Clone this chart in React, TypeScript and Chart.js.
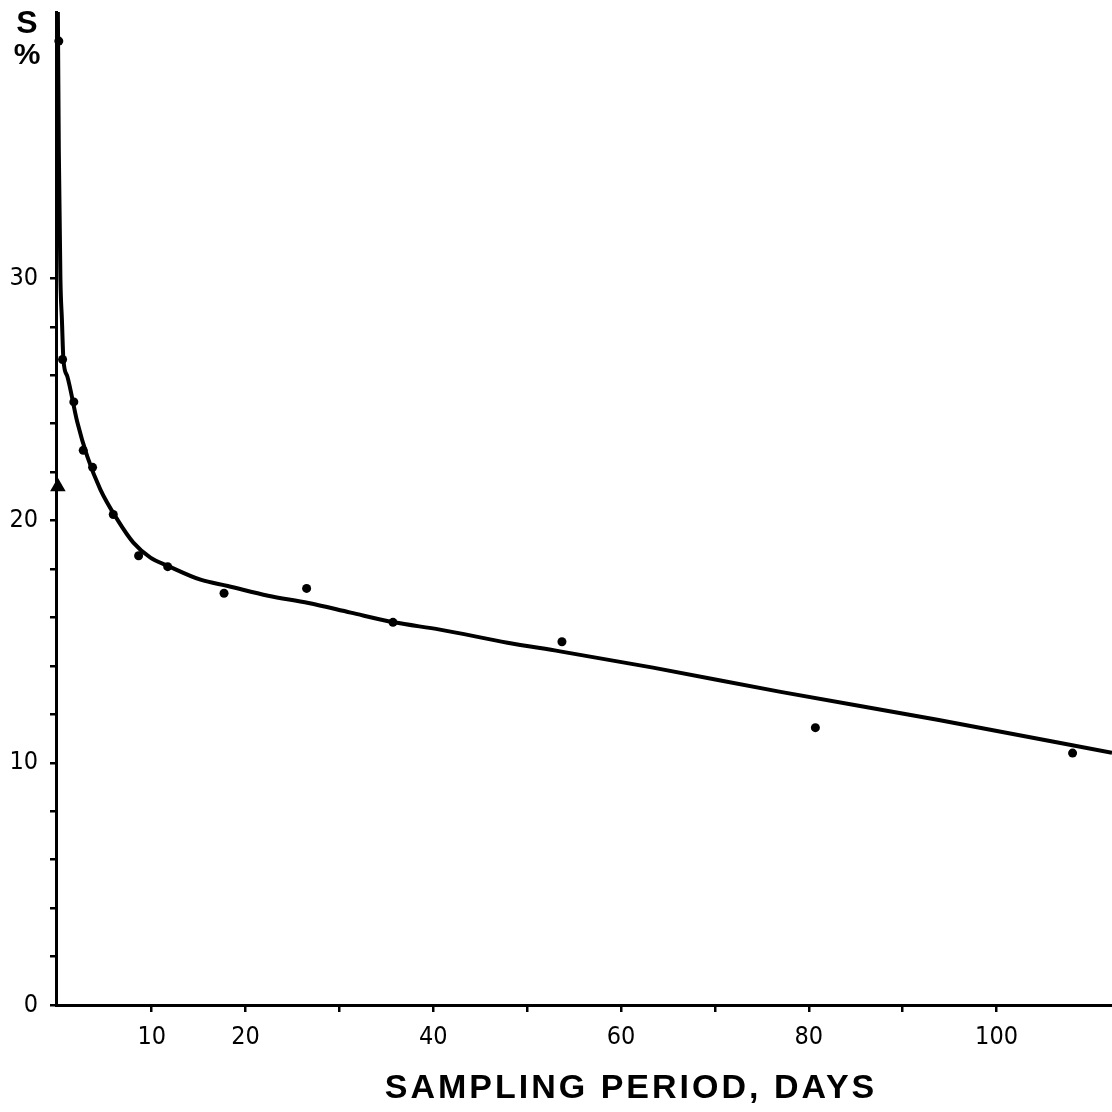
import React, { useEffect, useRef } from "react";
import { Chart, registerables } from "chart.js";

Chart.register(...registerables);

// Fitted decay curve of S (%) over the sampling period
const curveDays = [0.0, 0.1, 0.27, 0.43, 0.59, 1.01, 2.08, 3.14, 4.53, 6.34, 8.04, 9.86, 11.67, 15.2, 18.1, 22.4, 26.7, 31.2, 35.8, 40.7, 47.9, 53.5, 63.4, 77.0, 93.7, 112.3];
const curveS = [41.0, 35.3, 30.0, 28.3, 26.65, 25.95, 24.05, 22.64, 21.28, 20.04, 19.09, 18.47, 18.14, 17.56, 17.3, 16.9, 16.6, 16.2, 15.8, 15.5, 14.96, 14.6, 13.93, 12.93, 11.78, 10.41];

// Measured samples
const sampleDays = [0.1, 0.5, 1.7, 2.7, 3.7, 5.9, 8.6, 11.7, 17.7, 26.5, 35.7, 53.7, 80.7, 108.1];
const sampleS = [39.8, 26.65, 24.9, 22.9, 22.2, 20.25, 18.55, 18.1, 17.0, 17.2, 15.8, 15.0, 11.45, 10.4];

// Initial value marked with a triangle
const triangleDays = [0];
const triangleS = [21.4];

// Axis tick labels
const xTickLabels = [10, 20, 40, 60, 80, 100];
const yTickLabels = [0, 10, 20, 30];

const xTitle = "SAMPLING PERIOD, DAYS";
const yTitleTop = "S";
const yTitleBottom = "%";

const toPoints = (xs: number[], ys: number[]) => xs.map((x, i) => ({ x, y: ys[i] }));

const titlesPlugin = {
  id: "axisTitles",
  afterDraw(chart: any) {
    const ctx = chart.ctx as CanvasRenderingContext2D;
    ctx.save();
    ctx.fillStyle = "#000";
    // x-axis title, spaced capitals
    ctx.font = 'bold 34px "Liberation Sans", Arial, sans-serif';
    (ctx as any).letterSpacing = "3px";
    ctx.textAlign = "center";
    ctx.textBaseline = "alphabetic";
    ctx.fillText(xTitle, 631, 1098);
    (ctx as any).letterSpacing = "0px";
    // y-axis unit, stacked at the top left
    ctx.font = 'bold 32px "Liberation Sans", Arial, sans-serif';
    ctx.fillText(yTitleTop, 27, 33);
    ctx.font = 'bold 30px "Liberation Sans Narrow", "Liberation Sans", sans-serif';
    ctx.fillText(yTitleBottom, 27, 64);
    ctx.restore();
  },
};

export default function App() {
  const canvasRef = useRef<HTMLCanvasElement | null>(null);

  useEffect(() => {
    const canvas = canvasRef.current;
    if (!canvas) return;
    const tickFont = { family: '"Liberation Sans Narrow", "DejaVu Sans Condensed", sans-serif', size: 25 };
    const chart = new Chart(canvas, {
      type: "scatter",
      data: {
        datasets: [
          {
            label: "fit",
            data: toPoints(curveDays, curveS),
            showLine: true,
            borderColor: "#000",
            borderWidth: 4,
            pointRadius: 0,
            cubicInterpolationMode: "monotone",
            order: 2,
          },
          {
            label: "samples",
            data: toPoints(sampleDays, sampleS),
            showLine: false,
            clip: false,
            pointRadius: 4.5,
            pointBackgroundColor: "#000",
            pointBorderColor: "#000",
            pointBorderWidth: 0,
            order: 1,
          },
          {
            label: "initial",
            data: toPoints(triangleDays, triangleS),
            showLine: false,
            clip: false,
            pointStyle: "triangle",
            pointRadius: 9,
            pointBackgroundColor: "#000",
            pointBorderColor: "#000",
            pointBorderWidth: 0,
            order: 0,
          },
        ],
      },
      options: {
        animation: false,
        responsive: false,
        devicePixelRatio: 1,
        layout: { autoPadding: false, padding: { top: 12, right: 0, left: 0, bottom: 0 } },
        plugins: { legend: { display: false }, tooltip: { enabled: false } },
        scales: {
          x: {
            type: "linear",
            min: -0.2,
            max: 112.3,
            afterFit(scale: any) {
              scale.height = 107;
              scale.paddingLeft = 0;
              scale.paddingRight = 0;
            },
            afterBuildTicks(scale: any) {
              scale.ticks = scale.ticks.filter((t: any) => t.value >= 10 && t.value <= 100);
            },
            ticks: {
              stepSize: 10,
              includeBounds: false,
              autoSkip: false,
              maxRotation: 0,
              color: "#000",
              font: tickFont,
              padding: 10,
              callback: (v: any) => (xTickLabels.includes(Number(v)) ? String(v) : ""),
            },
            grid: { drawOnChartArea: false, drawTicks: true, tickLength: 7, color: "#000", lineWidth: 2.5 },
            border: { display: true, color: "#000", width: 3 },
          },
          y: {
            type: "linear",
            min: 0,
            max: 41,
            afterFit(scale: any) {
              scale.width = 56;
              scale.paddingTop = 0;
              scale.paddingBottom = 0;
            },
            afterBuildTicks(scale: any) {
              scale.ticks = scale.ticks.filter((t: any) => t.value <= 30);
            },
            ticks: {
              stepSize: 2,
              includeBounds: false,
              autoSkip: false,
              color: "#000",
              font: tickFont,
              padding: 12,
              callback: (v: any) => (yTickLabels.includes(Number(v)) ? String(v) : ""),
            },
            grid: { drawOnChartArea: false, drawTicks: true, tickLength: 6, color: "#000", lineWidth: 2.5 },
            border: { display: true, color: "#000", width: 3 },
          },
        },
      },
      plugins: [titlesPlugin],
    } as any);
    return () => chart.destroy();
  }, []);

  return (
    <div style={{ position: "absolute", left: 0, top: 0, width: 1112, height: 1112, background: "#fff" }}>
      <canvas ref={canvasRef} width={1112} height={1112} style={{ display: "block" }} />
    </div>
  );
}
